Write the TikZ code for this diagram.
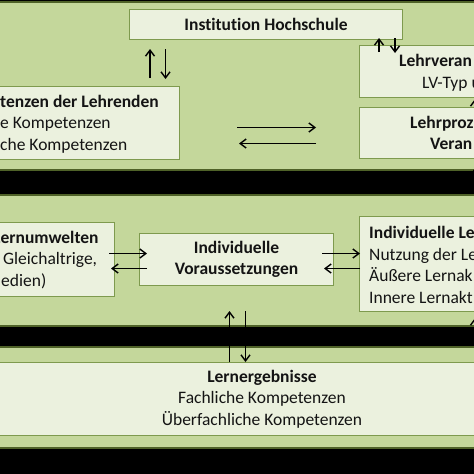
\documentclass[tikz,border=0pt]{standalone}
\usepackage{fontspec}
\setmainfont{Carlito}[Ligatures=NoCommon]
\usetikzlibrary{arrows.meta, positioning, calc}
\definecolor{bggreen}{RGB}{196,215,155}
\definecolor{boxfill}{RGB}{235,241,222}
\definecolor{boxline}{RGB}{126,154,78}
\definecolor{darkgreen}{RGB}{79,98,40}
\definecolor{txtdark}{RGB}{20,20,20}
\tikzset{
  panel/.style={fill=bggreen, draw=darkgreen, line width=2pt},
  box/.style={rectangle, draw=boxline, fill=boxfill, line width=1pt, inner sep=0pt},
  txt/.style={inner sep=0pt, text=txtdark, font=\fontsize{17.5}{21.5}\selectfont},
  boldtxt/.style={txt, font=\fontsize{17.5}{21.5}\selectfont\bfseries},
  arrow/.style={-{Straight Barb[length=6pt, width=9pt]}, line width=1.4pt, color=black}
}
\begin{document}
\begin{tikzpicture}[x=1pt, y=-1pt]
  \useasboundingbox (0,0) rectangle (474,474);
  \clip (0,0) rectangle (474,474);
  \fill[black] (0,0) rectangle (474,474);

  % Panels
  \draw[panel] (-5,1.5) rectangle (479,169.5);
  \draw[panel] (-5,194.5) rectangle (479,325.5);
  \draw[panel] (-5,346.5) rectangle (479,447.5);

  % Upper panel
  \node[box, boldtxt, anchor=north west, minimum width=273pt, minimum height=30pt] (inst) at (129,9) {Institution Hochschule};
  \node[box, anchor=north west, minimum width=239pt, minimum height=73pt] (lehr) at (-60,86) {};
  \node[box, anchor=north west, minimum width=140pt, minimum height=52pt] (lv) at (359,45) {};
  \node[box, anchor=north west, minimum width=140pt, minimum height=51pt] (lp) at (359,107) {};

  \node[txt, align=left, anchor=base west] (lehrtxt) at (0,150) {\textbf{tenzen der Lehrenden}\\e Kompetenzen\\che Kompetenzen};
  \node[boldtxt, anchor=base west] (lvtxt1) at (399,66) {Lehrveran};
  \node[txt, anchor=base west] (lvtxt2) at (422,88) {LV-Typ u};
  \node[boldtxt, anchor=base west] (lptxt1) at (410,128) {Lehrproz};
  \node[boldtxt, anchor=base west] (lptxt2) at (430,149) {Veran};

  % Middle panel
  \node[box, anchor=north west, minimum width=174pt, minimum height=74pt] (lern) at (-60,222) {};
  \node[box, boldtxt, align=center, anchor=north west, minimum width=194pt, minimum height=52pt] (iv) at (139,233) {Individuelle\\Voraussetzungen};
  \node[box, anchor=north west, minimum width=140pt, minimum height=95pt] (il) at (359,216) {};

  \node[txt, align=left, anchor=base west] (lerntxt) at (-7,286) {\textbf{Lernumwelten}\\\hspace*{10pt}Gleichaltrige,\\\hspace*{8pt}edien)};
  \node[txt, align=left, anchor=base west] (iltxt) at (369,303) {\textbf{Individuelle Le}\\Nutzung der Le\\Äußere Lernak\\Innere Lernakt};

  % Lower panel
  \node[box, anchor=north west, minimum width=484pt, minimum height=73pt] (leb) at (-5,362) {};
  \node[txt, align=center, anchor=base] (lebtxt) at (262,425) {\textbf{Lernergebnisse}\\Fachliche Kompetenzen\\Überfachliche Kompetenzen};

  % Connectors, upper panel
  \draw[arrow] ($(lehr.north west)+(210,-8)$) -- ($(inst.south west)+(21,9)$);
  \draw[arrow] ($(inst.south west)+(36.5,9)$) -- ($(lehr.north west)+(225.5,-7)$);
  \draw[arrow] ($(lv.north west)+(20,7)$) -- ($(lv.north west)+(20,-7)$);
  \draw[arrow] ($(lv.north west)+(36,-7)$) -- ($(lv.north west)+(36,8)$);
  \draw[arrow] ($(lehr.east)+(57,4.5)$) -- ($(lehr.east)+(136,4.5)$);
  \draw[arrow] ($(lehr.east)+(136,20.5)$) -- ($(lehr.east)+(59,20.5)$);
  \draw[arrow] ($(lp.north west)+(116,0)$) -- ($(lv.south west)+(116,1)$);
  \draw[arrow] ($(il.north west)+(116,0)$) -- ($(lp.south west)+(116,9)$);

  % Connectors, middle panel
  \draw[arrow] ($(lern.east)+(-6,-6)$) -- ($(iv.west)+(8,-6)$);
  \draw[arrow] ($(iv.west)+(8,9)$) -- ($(lern.east)+(-4,9)$);
  \draw[arrow] ($(iv.east)+(-12,-6)$) -- ($(il.west |- iv.east)+(1,-6)$);
  \draw[arrow] ($(il.west |- iv.east)+(1,9)$) -- ($(iv.east)+(-10,9)$);
  \draw[arrow] ($(leb.north west)+(480,0)$) -- ($(il.south west)+(116,6)$);

  % Connectors, lower panel
  \draw[arrow] ($(iv.south |- leb.north)+(-7,0)$) -- ($(iv.south)+(-7,25)$);
  \draw[arrow] ($(iv.south)+(9,25)$) -- ($(iv.south |- leb.north)+(9,0)$);
\end{tikzpicture}
\end{document}
